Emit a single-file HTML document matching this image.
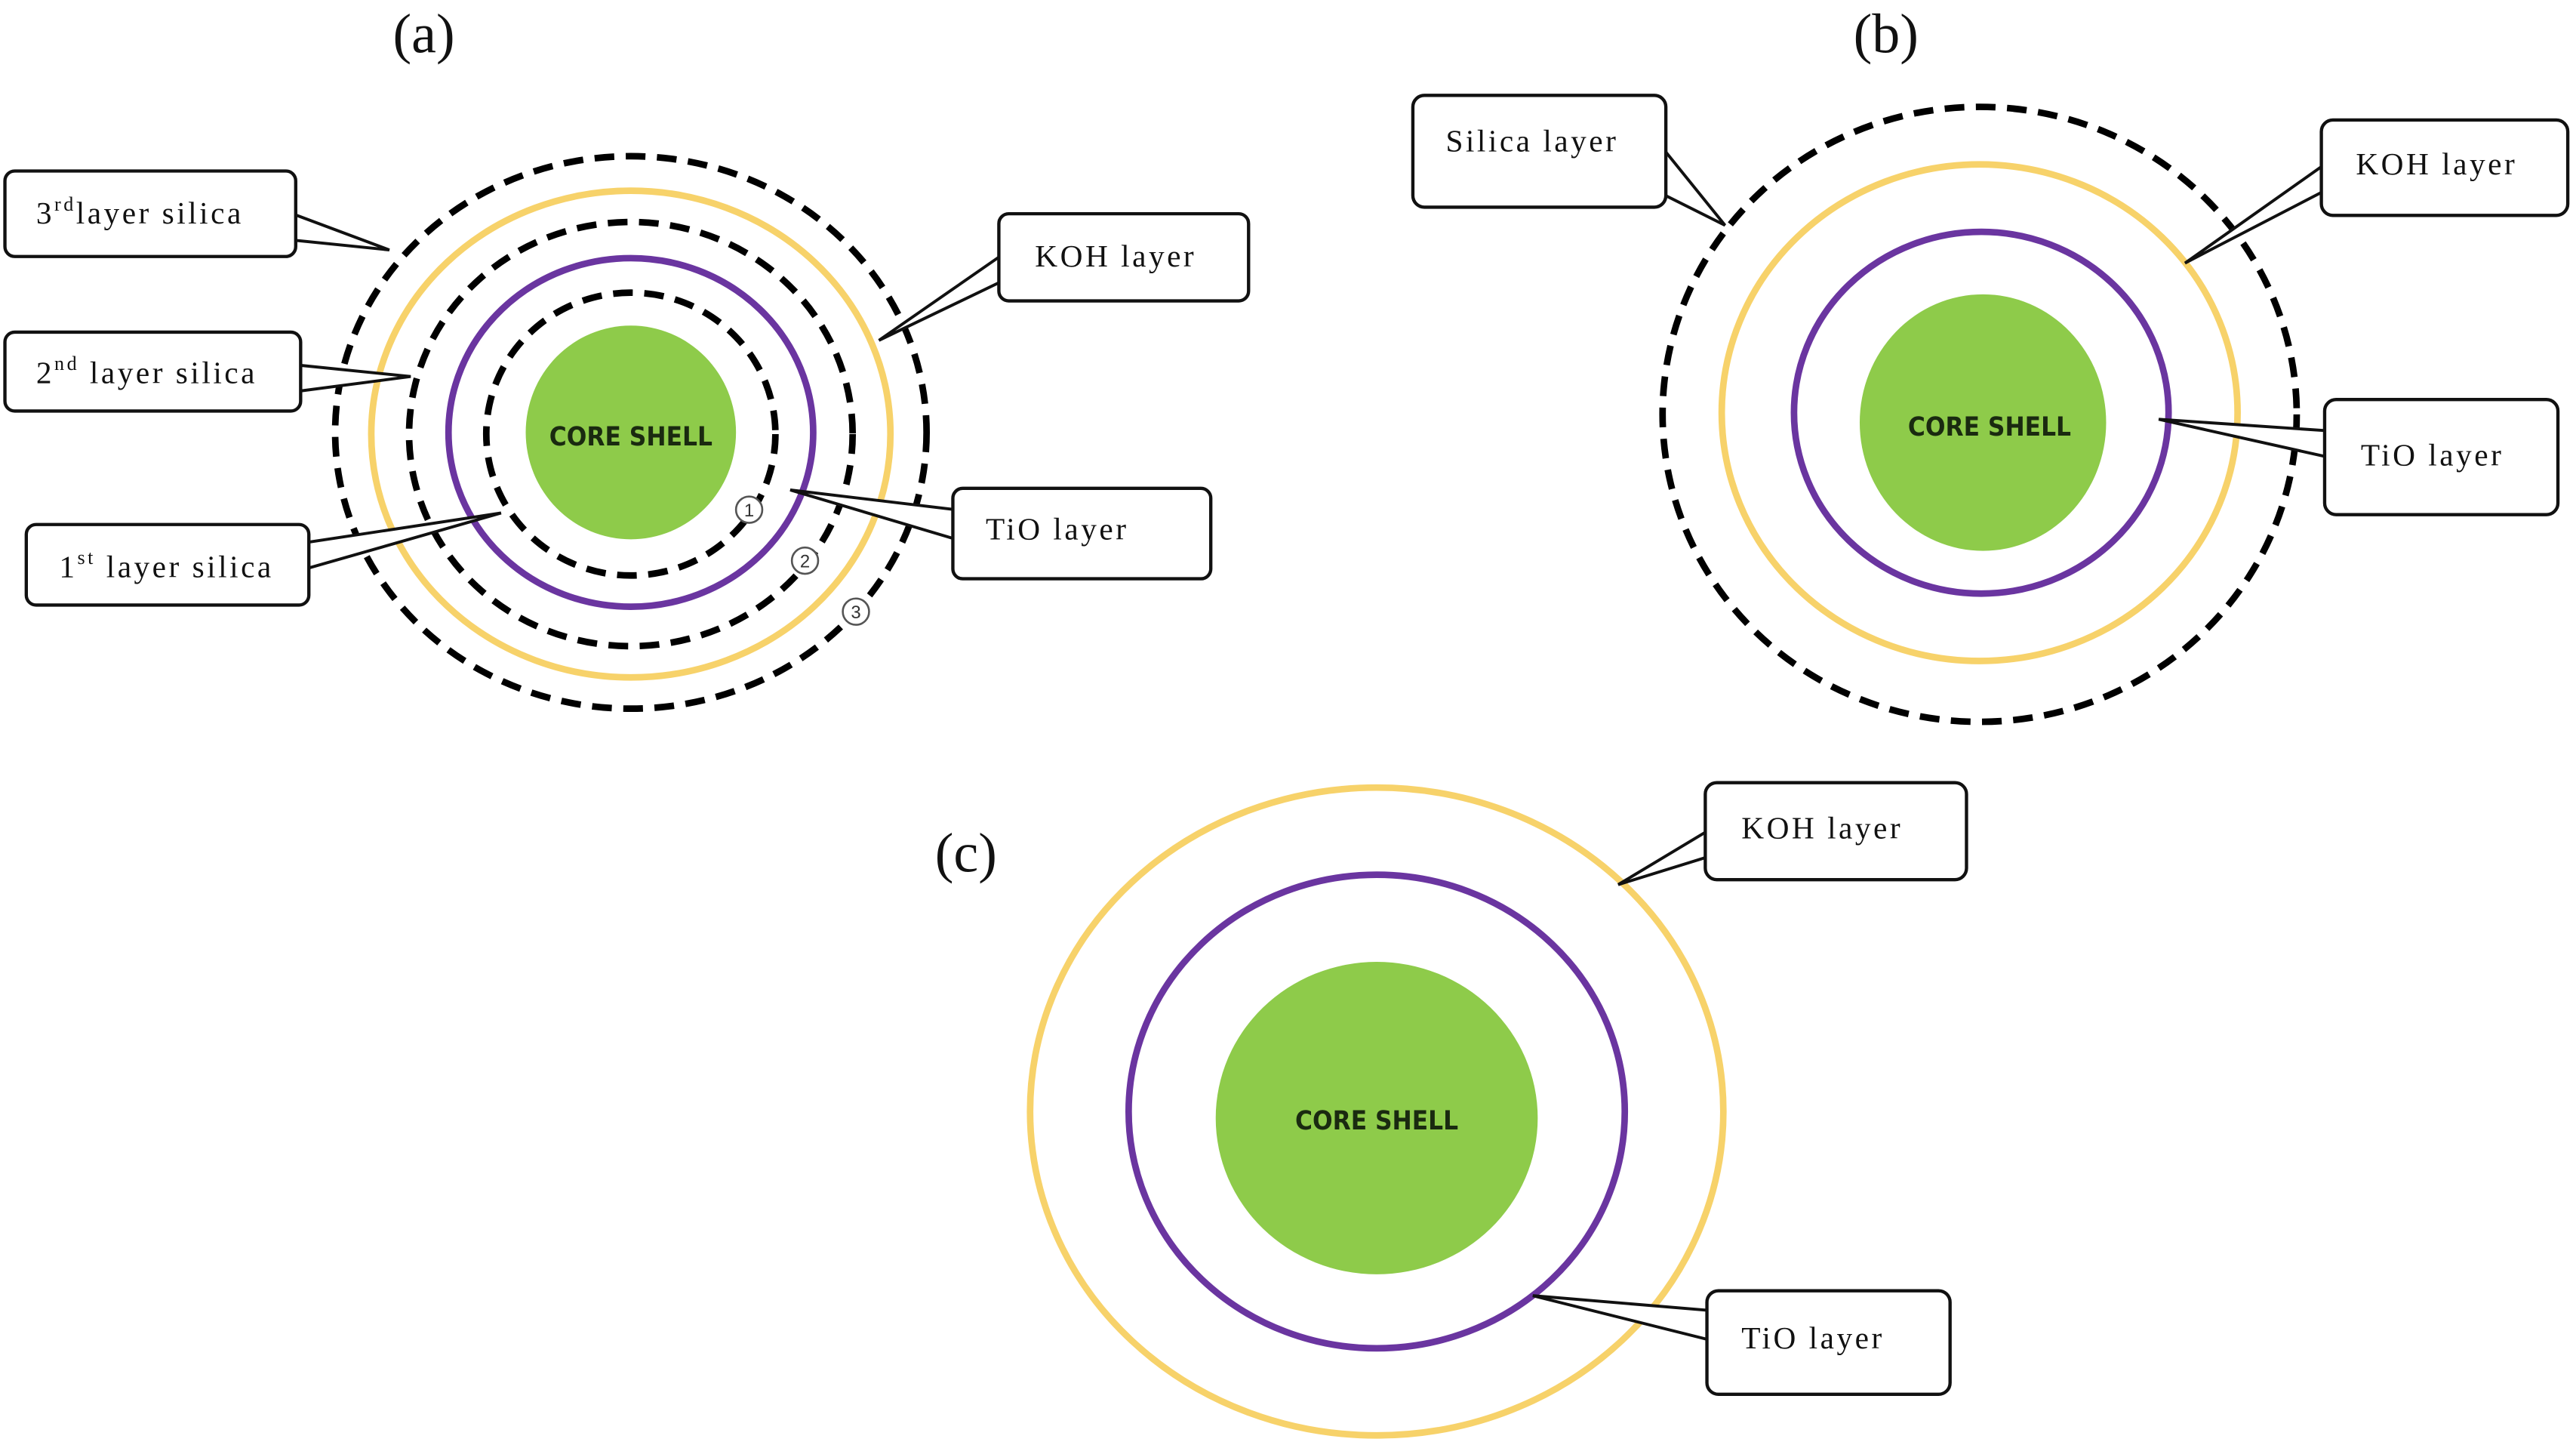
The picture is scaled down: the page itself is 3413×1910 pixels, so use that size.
<!DOCTYPE html>
<html><head><meta charset="utf-8"><style>
html,body{margin:0;padding:0;background:#fff;}
svg{display:block;}
.t{font-family:"Liberation Serif",serif;font-size:19px;fill:#111;letter-spacing:1.6px;}
.c{font-family:"DejaVu Sans Condensed","Liberation Sans",sans-serif;font-weight:bold;font-size:16px;fill:#1a2a10;}
.lbl{font-family:"Liberation Serif",serif;font-size:34px;fill:#111;}
.box{fill:#fff;stroke:#111;stroke-width:2;}
.w{fill:#fff;stroke:#111;stroke-width:1.8;stroke-linejoin:miter;}
.d{fill:none;stroke:#000;stroke-width:4;stroke-dasharray:12 7;}
.y{fill:none;stroke:#f7d26a;stroke-width:4;}
.p{fill:none;stroke:#6a35a0;stroke-width:4;}
.g{fill:#8ecb4a;}
</style></head><body>
<svg width="3413" height="1910" viewBox="0 0 1568 877" preserveAspectRatio="none" xmlns="http://www.w3.org/2000/svg">
<!-- panel a -->
<text class="lbl" x="258" y="32" text-anchor="middle">(a)</text>
<ellipse class="g" cx="384" cy="263" rx="64" ry="65"/>
<text class="c" x="384" y="271" text-anchor="middle">CORE SHELL</text>
<ellipse class="d" cx="384" cy="264" rx="88" ry="86"/>
<ellipse class="p" cx="384" cy="263" rx="111" ry="106"/>
<ellipse class="d" cx="384" cy="264" rx="135" ry="129"/>
<ellipse class="y" cx="384" cy="264" rx="158" ry="148"/>
<ellipse class="d" cx="384" cy="263" rx="180" ry="168"/>
<g font-family="Liberation Sans,sans-serif" font-size="11" text-anchor="middle" fill="#333">
<circle cx="456" cy="310" r="8" fill="#fff" stroke="#555" stroke-width="1.2"/><text x="456" y="314">1</text>
<circle cx="490" cy="341" r="8" fill="#fff" stroke="#555" stroke-width="1.2"/><text x="490" y="345">2</text>
<circle cx="521" cy="372" r="8" fill="#fff" stroke="#555" stroke-width="1.2"/><text x="521" y="376">3</text>
</g>
<polygon class="w" points="178,130 237,152 178,146"/>
<rect class="box" x="3" y="104" width="177" height="52" rx="6"/>
<text class="t" x="22" y="136">3<tspan font-size="12" dy="-8">rd</tspan><tspan dy="8">layer silica</tspan></text>
<polygon class="w" points="181,222 250,229 181,238"/>
<rect class="box" x="3" y="202" width="180" height="48" rx="6"/>
<text class="t" x="22" y="233">2<tspan font-size="12" dy="-8">nd</tspan><tspan dy="8"> layer silica</tspan></text>
<polygon class="w" points="186,330 305,312 186,346"/>
<rect class="box" x="16" y="319" width="172" height="49" rx="6"/>
<text class="t" x="36" y="351">1<tspan font-size="12" dy="-8">st</tspan><tspan dy="8"> layer silica</tspan></text>
<polygon class="w" points="610,155 535,207 610,171"/>
<rect class="box" x="608" y="130" width="152" height="53" rx="6"/>
<text class="t" x="630" y="162">KOH layer</text>
<polygon class="w" points="582,310 481,298 582,328"/>
<rect class="box" x="580" y="297" width="157" height="55" rx="6"/>
<text class="t" x="600" y="328">TiO layer</text>

<!-- panel b -->
<text class="lbl" x="1148" y="32" text-anchor="middle">(b)</text>
<ellipse class="g" cx="1207" cy="257" rx="75" ry="78"/>
<text class="c" x="1211" y="265" text-anchor="middle">CORE SHELL</text>
<ellipse class="p" cx="1206" cy="251" rx="114" ry="110"/>
<ellipse class="y" cx="1205" cy="251" rx="157" ry="151"/>
<ellipse class="d" cx="1205" cy="252" rx="193" ry="187"/>
<polygon class="w" points="1012,90 1050,137 1012,118"/>
<rect class="box" x="860" y="58" width="154" height="68" rx="7"/>
<text class="t" x="880" y="92">Silica layer</text>
<polygon class="w" points="1415,100 1330,160 1415,116"/>
<rect class="box" x="1413" y="73" width="150" height="58" rx="7"/>
<text class="t" x="1434" y="106">KOH layer</text>
<polygon class="w" points="1417,262 1314,255 1417,278"/>
<rect class="box" x="1415" y="243" width="142" height="70" rx="7"/>
<text class="t" x="1437" y="283">TiO layer</text>

<!-- panel c -->
<text class="lbl" x="588" y="530" text-anchor="middle">(c)</text>
<ellipse class="g" cx="838" cy="680" rx="98" ry="95"/>
<text class="c" x="838" y="687" text-anchor="middle">CORE SHELL</text>
<ellipse class="p" cx="838" cy="676" rx="151" ry="144"/>
<ellipse class="y" cx="838" cy="676" rx="211" ry="197"/>
<polygon class="w" points="1040,505 985,538 1040,521"/>
<rect class="box" x="1038" y="476" width="159" height="59" rx="7"/>
<text class="t" x="1060" y="510">KOH layer</text>
<polygon class="w" points="1041,797 933,788 1041,815"/>
<rect class="box" x="1039" y="785" width="148" height="63" rx="7"/>
<text class="t" x="1060" y="820">TiO layer</text>
</svg>
</body></html>
